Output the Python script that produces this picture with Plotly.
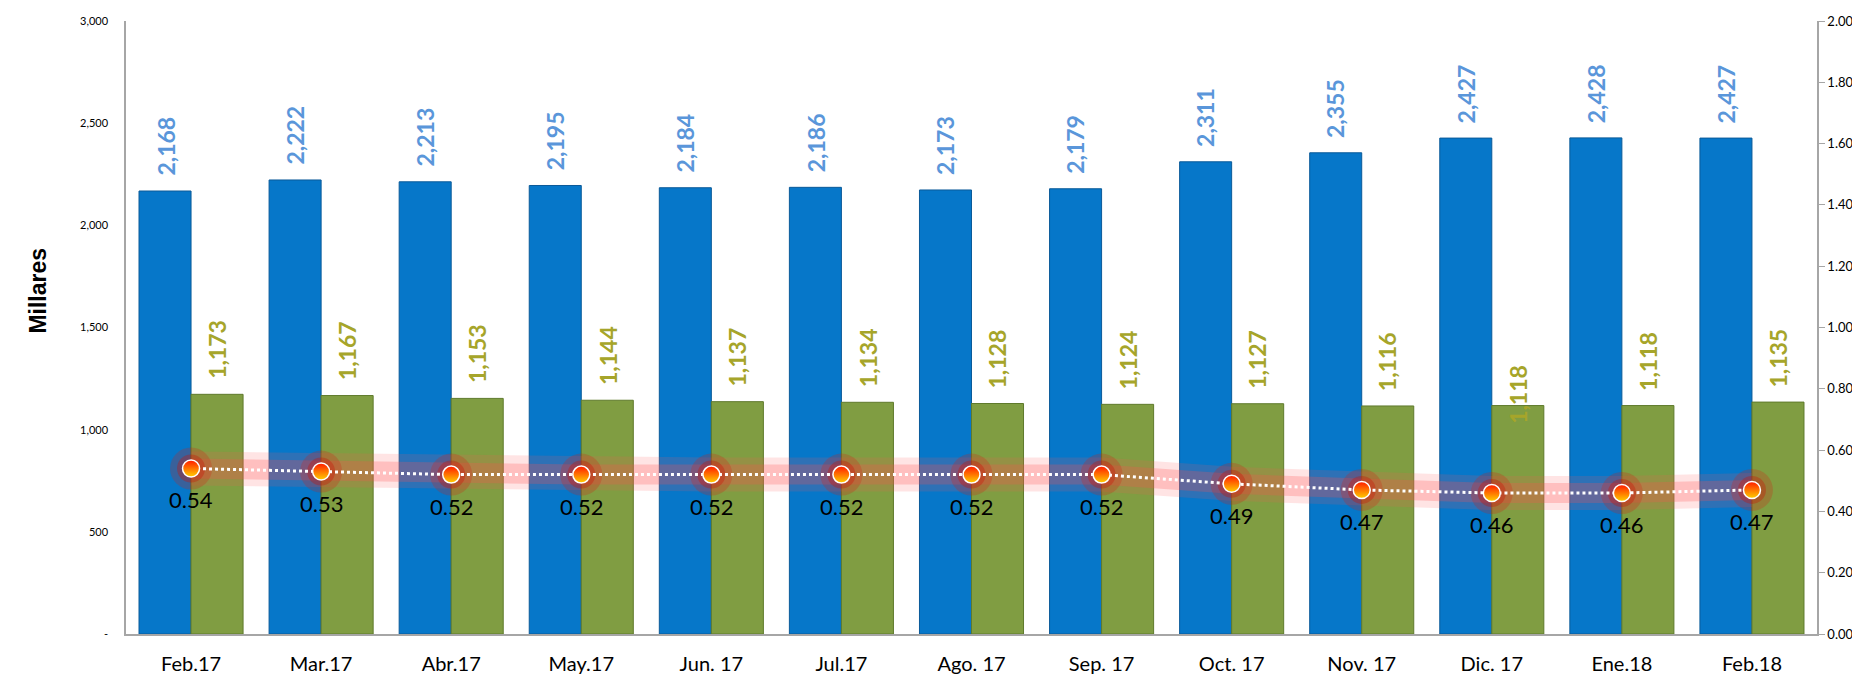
import plotly.graph_objects as go

categories = ["Feb.17", "Mar.17", "Abr.17", "May.17", "Jun. 17", "Jul.17", "Ago. 17",
              "Sep. 17", "Oct. 17", "Nov. 17", "Dic. 17", "Ene.18", "Feb.18"]
series_a = [2168, 2222, 2213, 2195, 2184, 2186, 2173, 2179, 2311, 2355, 2427, 2428, 2427]
series_b = [1173, 1167, 1153, 1144, 1137, 1134, 1128, 1124, 1127, 1116, 1118, 1118, 1135]
ratio = [0.54, 0.53, 0.52, 0.52, 0.52, 0.52, 0.52, 0.52, 0.49, 0.47, 0.46, 0.46, 0.47]
left_ticks = [0, 500, 1000, 1500, 2000, 2500, 3000]
left_ticktext = ["-", "500", "1,000", "1,500", "2,000", "2,500", "3,000"]
right_ticks = [0, 0.2, 0.4, 0.6, 0.8, 1.0, 1.2, 1.4, 1.6, 1.8, 2.0]

BLUE = "#0677C9"
GREEN = "#809D42"
BLUE_TXT = "#5A96DA"
GREEN_TXT = "#A6A52A"

fig = go.Figure()
fig.add_trace(go.Bar(x=categories, y=series_a, marker=dict(color=BLUE, line=dict(color="#0A5A99", width=1)),
                     hoverinfo="y"))
fig.add_trace(go.Bar(x=categories, y=series_b, marker=dict(color=GREEN, line=dict(color="#5F7A2C", width=1)),
                     hoverinfo="y"))

# glow behind the line
fig.add_trace(go.Scatter(x=categories, y=ratio, yaxis="y2", mode="lines",
                         line=dict(color="rgba(255,90,90,0.16)", width=34), hoverinfo="skip"))
fig.add_trace(go.Scatter(x=categories, y=ratio, yaxis="y2", mode="lines+markers",
                         line=dict(color="rgba(255,80,80,0.25)", width=20),
                         marker=dict(size=42, color="rgba(210,30,20,0.25)", line=dict(width=0)),
                         hoverinfo="skip"))
fig.add_trace(go.Scatter(x=categories, y=ratio, yaxis="y2", mode="markers",
                         marker=dict(size=28, color="rgba(200,20,10,0.35)", line=dict(width=0)),
                         hoverinfo="skip"))
fig.add_trace(go.Scatter(x=categories, y=ratio, yaxis="y2", mode="lines+markers",
                         line=dict(color="white", width=3, dash="dot"),
                         marker=dict(size=17, color="#FF1A00",
                                     gradient=dict(type="vertical", color="#FFD000"),
                                     line=dict(color="white", width=1.5)),
                         hoverinfo="y"))

annotations = []
for i, c in enumerate(categories):
    annotations.append(dict(x=c, y=series_a[i], xref="x", yref="y", text=f"{series_a[i]:,}",
                            textangle=-90, showarrow=False, yanchor="bottom", xshift=-26, yshift=13,
                            font=dict(family="Lato", size=23, color=BLUE_TXT, weight="bold")))
    ys = -20 if c == "Dic. 17" else 13
    annotations.append(dict(x=c, y=series_b[i], xref="x", yref="y", text=f"{series_b[i]:,}",
                            textangle=-90, showarrow=False, yanchor="bottom", xshift=26, yshift=ys,
                            font=dict(family="Lato", size=23, color=GREEN_TXT, weight="bold")))
    annotations.append(dict(x=c, y=ratio[i], xref="x", yref="y2", text=f"{ratio[i]:.2f}",
                            showarrow=False, yanchor="top", yshift=-16,
                            font=dict(family="Lato", size=22, color="black")))

annotations.append(dict(x=-0.061, y=0.56, xref="paper", yref="paper", text="<b>Millares</b>",
                        textangle=-90, showarrow=False,
                        font=dict(family="Liberation Sans", size=23, color="black")))

# the page body has an 8px margin, so the figure is drawn at (8, 8)
fig.update_layout(
    width=1852, height=669,
    margin=dict(l=118, r=43, t=13, b=43),
    paper_bgcolor="white", plot_bgcolor="white",
    barmode="group", bargap=0.2, bargroupgap=0,
    showlegend=False,
    annotations=annotations,
    xaxis=dict(range=[-0.5, len(categories) - 0.5], showline=True, linecolor="#A6A6A6", linewidth=1.5,
               ticks="", showgrid=False, automargin=False,
               tickfont=dict(family="Lato", size=20, color="black"), ticklabelstandoff=11),
    yaxis=dict(range=[0, 3000], tickvals=left_ticks, ticktext=left_ticktext, showgrid=False,
               showline=True, linecolor="#A6A6A6", linewidth=1.5, ticks="", zeroline=False,
               automargin=False,
               tickfont=dict(family="Lato", size=11, color="black"), ticklabelstandoff=14),
    yaxis2=dict(range=[0, 2], overlaying="y", side="right", tickvals=right_ticks, tickformat=".2f",
                showgrid=False, showline=True, linecolor="#A6A6A6", linewidth=1.5, ticks="outside",
                ticklen=6, tickcolor="#A6A6A6", zeroline=False, automargin=False,
                tickfont=dict(family="Lato", size=13, color="black")),
)

fig.write_html("out.html")
